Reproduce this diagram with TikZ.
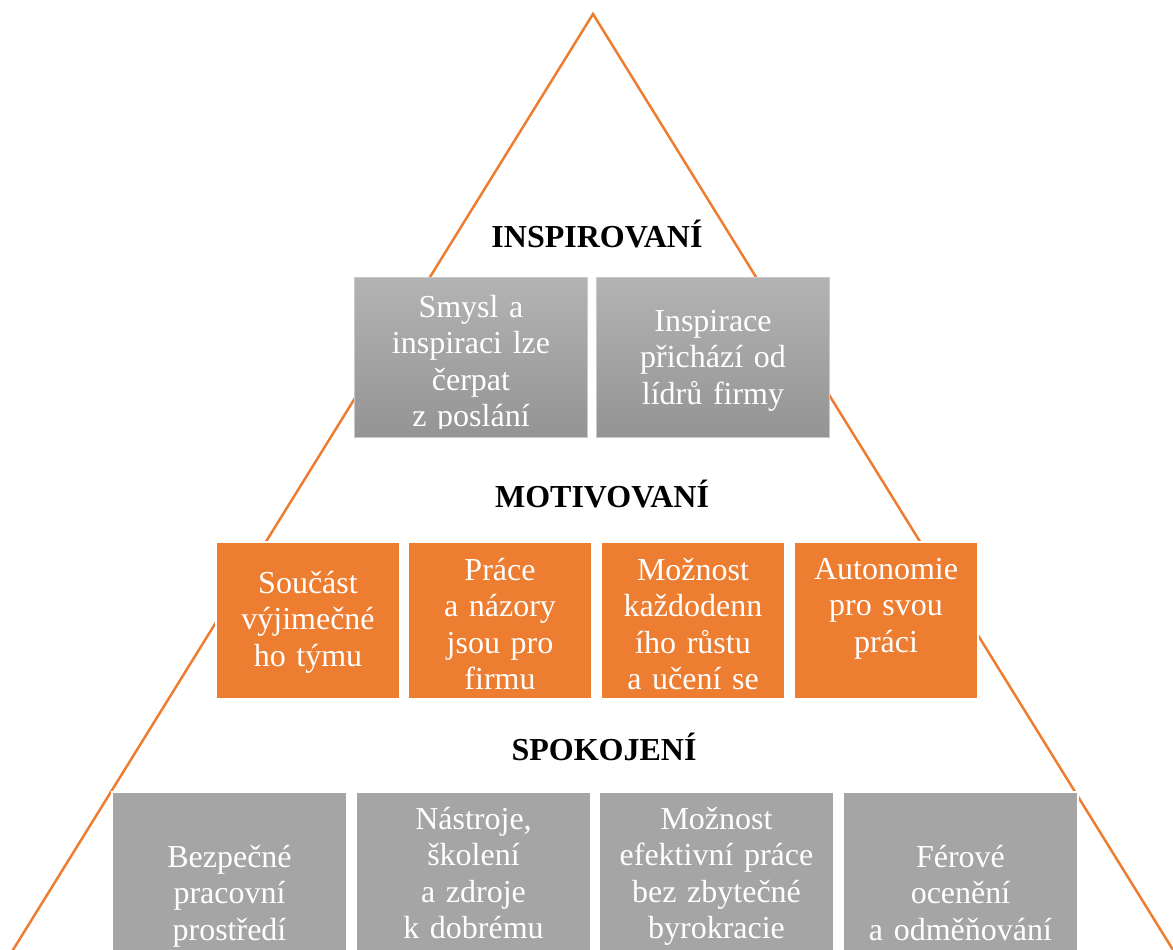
\documentclass[tikz,border=0pt]{standalone}
\usepackage{fontspec}
\setmainfont{Liberation Serif}
\usetikzlibrary{positioning}
\definecolor{pyrorange}{HTML}{ED7D31}
\definecolor{pyrgray}{HTML}{A5A5A5}
\definecolor{pyrtop}{HTML}{B3B3B3}
\definecolor{pyrbottom}{HTML}{949494}

\begin{document}
\begin{tikzpicture}[x = 1pt, y = -1pt,
	box/.style = {draw = white, line width = 2pt, anchor = north west, inner sep = 0pt},
	graybox/.style = {box, fill = pyrgray, minimum width = 235pt, minimum height = 200pt},
	orangebox/.style = {box, fill = pyrorange, minimum width = 184pt, minimum height = 157pt},
	topbox/.style = {box, draw = pyrgray!60, line width = 1pt, top color = pyrtop, bottom color = pyrbottom, minimum width = 233pt, minimum height = 160pt},
	boxtext/.style = {text = white, anchor = base, text width = #1, align = center, inner sep = 0pt, font = \fontsize{32}{36.5}\selectfont},
	boxtext/.default = 220pt,
	level/.style = {anchor = base, inner sep = 0pt, font = \fontsize{32}{36}\selectfont\bfseries}]
	\useasboundingbox (0, 0) rectangle (1173, 950);
	% pyramid outline
	\coordinate (apex) at (593, 14);
	\draw[pyrorange, line width = 2.5pt] (-10, 987) -- (apex) -- (1196, 987);
	% top level
	\node[level] (Ilabel) at (597, 247) {INSPIROVANÍ};
	\node[topbox] (I1) at (354, 277) {};
	\node[topbox] (I2) at (596, 277) {};
	\begin{scope}
		\clip (I1.north west) rectangle ([yshift = 10pt]I1.south east);
		\node[boxtext] (I1t) at ([yshift = -40pt]I1.north) {Smysl a\\inspiraci lze\\čerpat\\z poslání};
	\end{scope}
	\node[boxtext] (I2t) at ([yshift = -54pt]I2.north) {Inspirace\\přichází od\\lídrů firmy};
	% middle level
	\node[level] (Mlabel) at (602, 507) {MOTIVOVANÍ};
	\node[orangebox] (M1) at (215, 541) {};
	\node[orangebox] (M2) at (407, 541) {};
	\node[orangebox] (M3) at (600, 541) {};
	\node[orangebox] (M4) at (793, 541) {};
	\node[boxtext = 180pt] (M1t) at ([yshift = -52pt]M1.north) {Součást\\výjimečné\\ho týmu};
	\node[boxtext = 180pt] (M2t) at ([yshift = -39pt]M2.north) {Práce\\a názory\\jsou pro\\firmu};
	\node[boxtext = 180pt] (M3t) at ([yshift = -39pt]M3.north) {Možnost\\každodenn\\ího růstu\\a učení se};
	\node[boxtext = 180pt] (M4t) at ([yshift = -38pt]M4.north) {Autonomie\\pro svou\\práci};
	% bottom level
	\node[level] (Slabel) at (604, 760) {SPOKOJENÍ};
	\node[graybox] (S1) at (111, 791) {};
	\node[graybox] (S2) at (355, 791) {};
	\node[graybox] (S3) at (598, 791) {};
	\node[graybox] (S4) at (842, 791) {};
	\node[boxtext] (S1t) at ([yshift = -76pt]S1.north) {Bezpečné\\pracovní\\prostředí};
	\node[boxtext] (S2t) at ([yshift = -38pt]S2.north) {Nástroje,\\školení\\a zdroje\\k dobrému};
	\node[boxtext] (S3t) at ([yshift = -38pt]S3.north) {Možnost\\efektivní práce\\bez zbytečné\\byrokracie};
	\node[boxtext] (S4t) at ([yshift = -76pt]S4.north) {Férové\\ocenění\\a odměňování};
\end{tikzpicture}
\end{document}
